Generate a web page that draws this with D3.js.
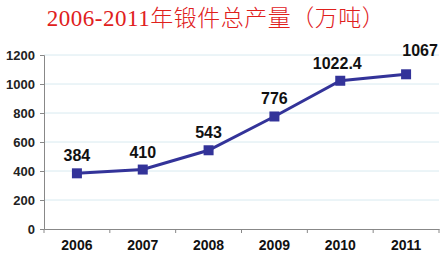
<!DOCTYPE html>
<html><head><meta charset="utf-8">
<script src="https://cdn.jsdelivr.net/npm/d3@7"></script>
<style>body{margin:0;background:#fff}svg{display:block}</style>
</head><body>
<svg id="c" width="442" height="257"></svg>
<script>
const title = "2006-2011年锻件总产量（万吨）";
const years = ["2006","2007","2008","2009","2010","2011"];
const values = [384, 410, 543, 776, 1022.4, 1067];
const valueLabels = ["384","410","543","776","1022.4","1067"];
const yTicks = [0,200,400,600,800,1000,1200];

const svg = d3.select("#c");
const m = {l:44, r:3, t:55, b:28};
const W = 442, H = 257;
const x = d3.scaleBand().domain(years).range([m.l, W - m.r]).padding(0);
const y = d3.scaleLinear().domain([0,1200]).range([229, 55]);

svg.append("text").attr("x", 216).attr("y", 26).attr("text-anchor","middle")
  .attr("font-family","'Liberation Serif','Noto Sans CJK SC',serif").attr("font-size",23)
  .attr("font-weight",300).attr("letter-spacing",0.5)
  .attr("fill","#e0201c").text(title);

svg.append("g").selectAll("line").data(yTicks.filter(d=>d>0)).join("line")
  .attr("x1", m.l).attr("x2", W - m.r).attr("y1", d=>y(d)).attr("y2", d=>y(d))
  .attr("stroke","#d8eaf0").attr("stroke-width",1);

const ya = svg.append("g").attr("transform",`translate(${m.l},0)`)
  .call(d3.axisLeft(y).tickValues(yTicks).tickFormat(d3.format("d")).tickSize(4).tickPadding(5));
ya.select(".domain").attr("stroke","#888");
ya.selectAll(".tick line").attr("stroke","#888");
ya.selectAll("text").attr("font-family","'Liberation Sans',Arial,sans-serif").attr("font-weight","bold").attr("font-size",13).attr("fill","#222");

const xa = svg.append("g").attr("transform",`translate(0,${y(0)})`)
  .call(d3.axisBottom(x).tickSize(0).tickPadding(11));
xa.select(".domain").attr("stroke","#888");
xa.selectAll("text").attr("font-family","'Liberation Sans',Arial,sans-serif").attr("font-weight","bold").attr("font-size",14).attr("fill","#111");
svg.append("g").selectAll("line").data(years.concat(["end"])).join("line")
  .attr("x1",(d,i)=>m.l + i*x.bandwidth()).attr("x2",(d,i)=>m.l + i*x.bandwidth())
  .attr("y1", y(0)).attr("y2", y(0)+4).attr("stroke","#888");

const cx = d => x(d) + x.bandwidth()/2;
const pts = years.map((d,i)=>[cx(d), y(values[i])]);
svg.append("path").attr("d", d3.line()(pts)).attr("fill","none")
  .attr("stroke","#333399").attr("stroke-width",3);
svg.append("g").selectAll("rect").data(years).join("rect")
  .attr("x", d=>cx(d)-5).attr("y",(d,i)=>y(values[i])-5).attr("width",10).attr("height",10)
  .attr("fill","#333399");
const dx = [0,0,0,0,-3,14];
svg.append("g").selectAll("text").data(years).join("text")
  .attr("x",(d,i)=>cx(d)+dx[i]).attr("y",(d,i)=>y(values[i])-12 - (i===5?6:0))
  .attr("text-anchor","middle").attr("font-family","'Liberation Sans',Arial,sans-serif")
  .attr("font-weight","bold").attr("font-size",16).attr("fill","#111")
  .text((d,i)=>valueLabels[i]);
</script>
</body></html>
